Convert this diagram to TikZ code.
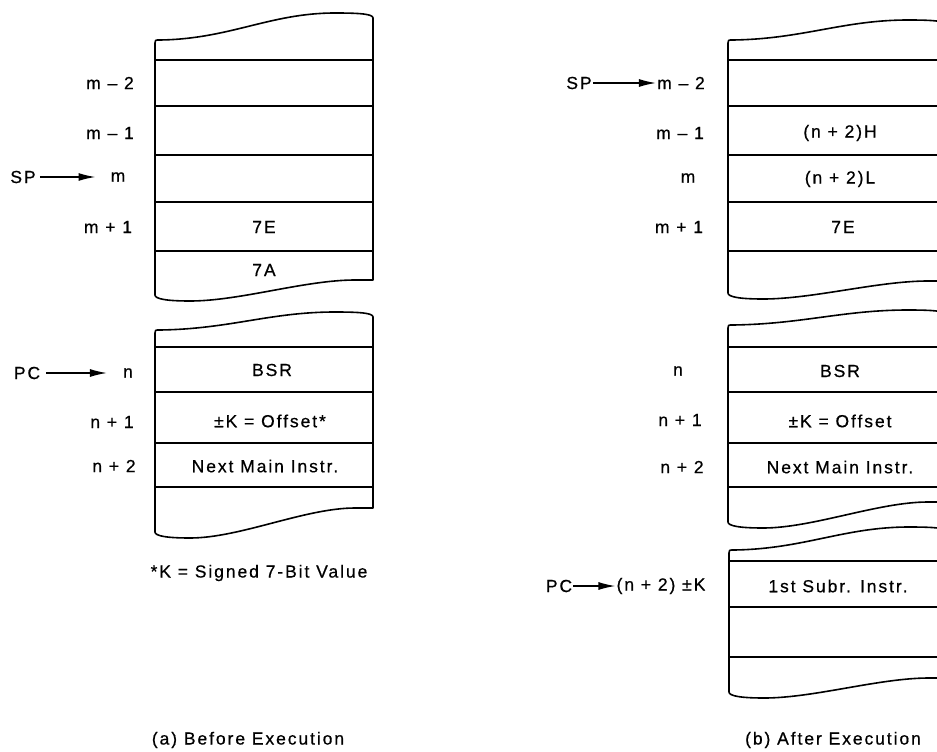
\documentclass[tikz,border=0pt]{standalone}
\usepackage{fontspec}
\setmainfont{Liberation Sans}[LetterSpace=11,FakeBold=0.6]
\usetikzlibrary{arrows.meta}
\newcommand\memblk[5]{% #1 xL, #2 top-left y, #3 top peak y, #4 bottom-left y, #5 bottom-right y
  \begin{scope}[shift={(#1,0)}]
    \draw[box] (0,#4) -- (0,#2+3) .. controls (0,#2) .. (5,#2)
      .. controls (75,#2-1) and (115,#3) .. (180,#3)
      .. controls (205,#3) and (218,#3+1) .. (218,#3+5)
      -- (218,#5) -- (200,#5)
      .. controls (150,#5) and (85,#4+6) .. (35,#4+6)
      .. controls (12,#4+6) and (0,#4+4) .. (0,#4) -- cycle;
  \end{scope}}
\begin{document}
\begin{tikzpicture}[x=1pt,y=-1pt,line join=round,
  lbl/.style={font=\fontsize{17.5}{20}\selectfont,inner sep=1pt},
  box/.style={line width=1.6pt},
  sep/.style={line width=1.4pt},
  arr/.style={line width=1.4pt,-{Latex[length=17pt,width=8pt]}}]
\path[use as bounding box,clip] (0,0) rectangle (937,752);

% ---------- (a) Before execution: stack ----------
\memblk{155}{40}{13}{295}{280}
\foreach \yy in {60,106,155,202,251} \draw[sep] (155,\yy) -- (373,\yy);
\node[lbl] (am2) at (110,83) {m – 2};
\node[lbl] (am1) at (110,133) {m – 1};
\node[lbl] (am) at (118,177) {m};
\node[lbl] (amp1) at (108,227) {m + 1};
\node[lbl] (asp) at (23,177) {SP};
\draw[arr,shorten >=14pt,shorten <=3pt] (asp) -- (am);
\node[lbl] (a7e) at (264,227) {7E};
\node[lbl] (a7a) at (264,270) {7A};

% ---------- (a) program memory ----------
\memblk{155}{330}{312}{532}{508}
\foreach \yy in {347,392,443,487} \draw[sep] (155,\yy) -- (373,\yy);
\node[lbl] (an) at (128,373) {n};
\node[lbl] (anp1) at (112,422) {n + 1};
\node[lbl] (anp2) at (114,466) {n + 2};
\node[lbl] (apc) at (27,373) {PC};
\draw[arr,shorten >=15pt,shorten <=5pt] (apc) -- (an);
\node[lbl] (absr) at (272,370) {BSR};
\node[lbl] (aoff) at (270,421) {±K = Offset*};
\node[lbl] (anext) at (265,466) {Next Main Instr.};
\node[lbl] (anote) at (259,573) {*K = Signed 7-Bit Value};
\node[lbl] (acap) at (248,740) {(a) Before Execution};

% ---------- (b) After execution: stack ----------
\memblk{728}{40}{20}{293}{281}
\foreach \yy in {60,106,155,202,251} \draw[sep] (728,\yy) -- (950,\yy);
\node[lbl] (bm2) at (681,83) {m – 2};
\node[lbl] (bm1) at (680,133) {m – 1};
\node[lbl] (bm) at (688,178) {m};
\node[lbl] (bmp1) at (679,227) {m + 1};
\node[lbl] (bsp) at (579,83) {SP};
\draw[arr] (bsp) -- (bm2);
\node[lbl] (bh) at (840,133) {(n + 2)H};
\node[lbl] (bl) at (840,179) {(n + 2)L};
\node[lbl] (b7e) at (843,227) {7E};

% ---------- (b) program memory ----------
\memblk{728}{325}{310}{522}{502}
\foreach \yy in {347,392,443,487} \draw[sep] (728,\yy) -- (950,\yy);
\node[lbl] (bn) at (678,371) {n};
\node[lbl] (bnp1) at (680,420) {n + 1};
\node[lbl] (bnp2) at (682,467) {n + 2};
\node[lbl] (bbsr) at (840,371) {BSR};
\node[lbl] (boff) at (840,421) {±K = Offset};
\node[lbl] (bnext) at (840,467) {Next Main Instr.};

% ---------- (b) subroutine ----------
\memblk{729}{550}{527}{692}{678}
\foreach \yy in {561,607,657} \draw[sep] (729,\yy) -- (950,\yy);
\node[lbl] (bpc) at (559,586) {PC};
\node[lbl] (btgt) at (661,586) {(n + 2) ±K};
\draw[arr] (bpc) -- (btgt);
\node[lbl] (bsub) at (838,586) {1st Subr. Instr.};
\node[lbl] (bcap) at (833,740) {(b) After Execution};
\end{tikzpicture}
\end{document}
